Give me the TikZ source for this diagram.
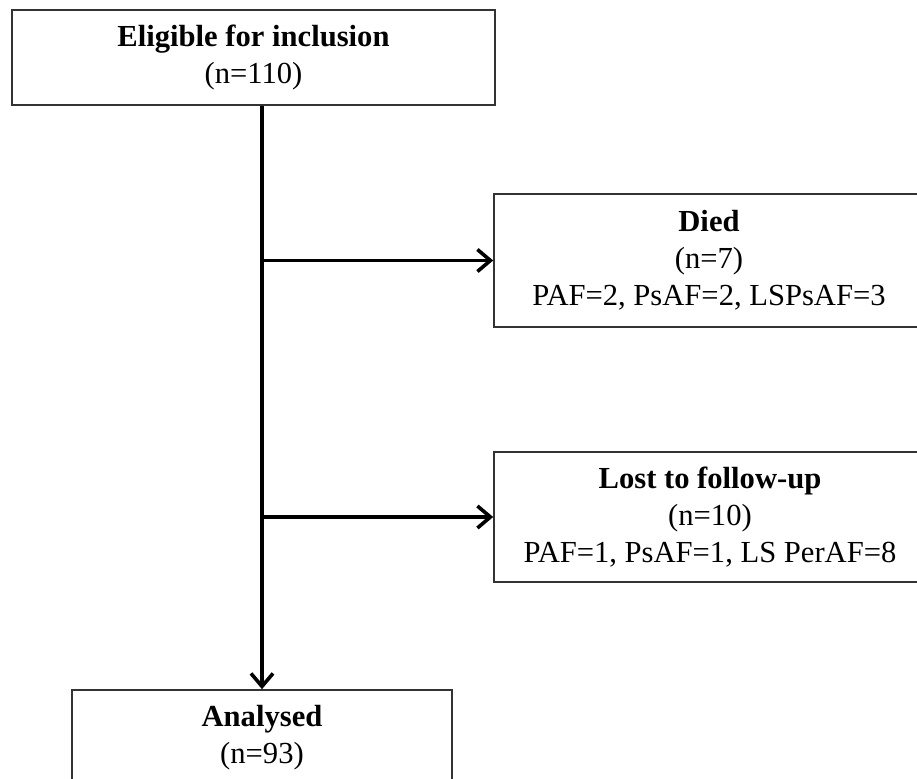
\documentclass[tikz,border=0pt]{standalone}
\usepackage{fontspec}
\setmainfont{Liberation Serif}
\usetikzlibrary{arrows.meta}

\begin{document}
\begin{tikzpicture}[x=0.5pt,y=-0.5pt]
  \tikzset {
    box/.style={
      rectangle,
      draw=black!80,
      line width=0.8pt,
      inner sep=0pt,
      align=center,
      font=\fontsize{15.3}{18.5}\selectfont
    },
    flow/.style={
      line width=1.8pt,
      -{Straight Barb[length=6.5pt,width=11pt]}
    }
  }
  \clip (0,0) rectangle (917,778);
  \node[box, minimum width=241.5pt, minimum height=47.5pt](elig) at (253.5,57.5) {\textbf{Eligible for inclusion}\\(n=110)};
  \node[box, minimum width=215pt, minimum height=66.5pt](died) at (709,260.5) {\textbf{Died}\\(n=7)\\PAF=2, PsAF=2, LSPsAF=3};
  \node[box, minimum width=216pt, minimum height=65pt](lost) at (710,517) {\textbf{Lost to follow-up}\\(n=10)\\PAF=1, PsAF=1, LS PerAF=8};
  \node[box, minimum width=190pt, minimum height=47.5pt](anl) at (262,737.5) {\textbf{Analysed}\\(n=93)};

  \draw[flow] (anl.north |- elig.south) -- (anl.north);
  \draw[flow] (anl.north |- died.west) -- (died.west);
  \draw[flow] (anl.north |- lost.west) -- (lost.west);

\end{tikzpicture}
\end{document}
